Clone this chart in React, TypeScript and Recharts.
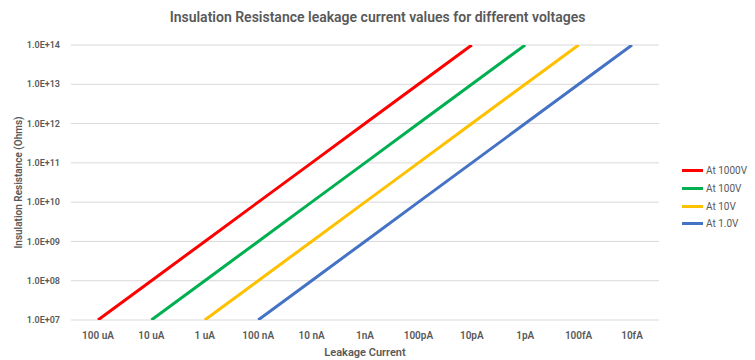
import { CartesianGrid, Label, Legend, Line, LineChart, XAxis, YAxis } from "recharts";

const currents = ["100 uA", "10 uA", "1 uA", "100 nA", "10 nA", "1nA", "100pA", "10pA", "1pA", "100fA", "10fA"];
const at1000V = [1e7, 1e8, 1e9, 1e10, 1e11, 1e12, 1e13, 1e14, null, null, null];
const at100V = [null, 1e7, 1e8, 1e9, 1e10, 1e11, 1e12, 1e13, 1e14, null, null];
const at10V = [null, null, 1e7, 1e8, 1e9, 1e10, 1e11, 1e12, 1e13, 1e14, null];
const at1V = [null, null, null, 1e7, 1e8, 1e9, 1e10, 1e11, 1e12, 1e13, 1e14];
const yTicks = [1e7, 1e8, 1e9, 1e10, 1e11, 1e12, 1e13, 1e14];

const series = [
  { key: "v1000", name: "At 1000V", color: "#FF0000" },
  { key: "v100", name: "At 100V", color: "#00B050" },
  { key: "v10", name: "At 10V", color: "#FFC000" },
  { key: "v1", name: "At 1.0V", color: "#4472C4" },
];

const data = currents.map((c, i) => ({
  current: c,
  v1000: at1000V[i],
  v100: at100V[i],
  v10: at10V[i],
  v1: at1V[i],
}));

const font = "Roboto, 'Open Sans', sans-serif";
const grey = "#595959";

const formatSci = (v: number) => {
  const exp = Math.round(Math.log10(v));
  return `1.0E+${exp < 10 ? "0" + exp : exp}`;
};

function LegendBox() {
  return (
    <div style={{ fontFamily: font, fontSize: 10, color: grey }}>
      {series.map((s) => (
        <div key={s.key} style={{ display: "flex", alignItems: "center", height: 17.7 }}>
          <div style={{ width: 21, height: 3, background: s.color, marginRight: 3 }} />
          <span>{s.name}</span>
        </div>
      ))}
    </div>
  );
}

export default function App() {
  return (
    <div style={{ width: 755, height: 360, position: "relative", background: "#fff" }}>
      <style>{`body{margin:0}`}</style>
      <div
        style={{
          position: "absolute",
          top: 9,
          width: 755,
          textAlign: "center",
          fontFamily: font,
          fontSize: 14,
          fontWeight: 600,
          color: grey,
          zIndex: 1,
        }}
      >
        Insulation Resistance leakage current values for different voltages
      </div>
      <LineChart width={755} height={360} data={data} margin={{ top: 45, right: 21, bottom: 10, left: 16 }}>
        <CartesianGrid horizontal vertical={false} stroke="#d9d9d9" />
        <XAxis
          dataKey="current"
          axisLine={false}
          tickLine={false}
          tickMargin={6}
          height={30}
          interval={0}
          padding={{ left: 27, right: 27 }}
          tick={{ fontSize: 10, fill: grey, fontFamily: font, fontWeight: 600 }}
        >
          <Label value="Leakage Current" position="insideBottom" offset={-6} style={{ fontSize: 11, fill: grey, fontFamily: font, fontWeight: 600 }} />
        </XAxis>
        <YAxis
          scale="log"
          domain={[1e7, 1e14]}
          ticks={yTicks}
          allowDataOverflow
          axisLine={false}
          tickLine={false}
          tickMargin={5}
          width={55}
          tickFormatter={formatSci}
          tick={{ fontSize: 9, fill: grey, fontFamily: font, fontWeight: 600 }}
        >
          <Label
            value="Insulation Resistance (Ohms)"
            angle={-90}
            position="insideLeft"
            offset={2}
            style={{ textAnchor: "middle", fontSize: 10, fill: grey, fontFamily: font, fontWeight: 600 }}
          />
        </YAxis>
        <Legend
          layout="vertical"
          align="right"
          verticalAlign="middle"
          content={<LegendBox />}
          wrapperStyle={{ left: 682, top: 162, width: 75 }}
        />
        {series.map((s) => (
          <Line
            key={s.key}
            dataKey={s.key}
            name={s.name}
            stroke={s.color}
            strokeWidth={3}
            dot={false}
            isAnimationActive={false}
          />
        ))}
      </LineChart>
    </div>
  );
}
